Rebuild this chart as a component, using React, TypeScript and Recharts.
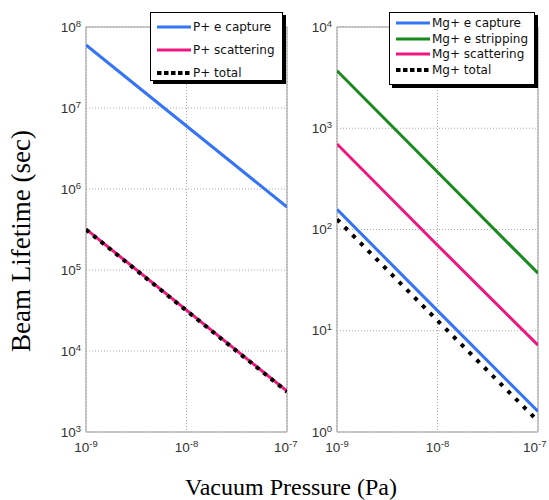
import { LineChart, Line, XAxis, YAxis, CartesianGrid, ReferenceArea, Legend } from 'recharts';

// pressure in Pa, lifetimes in seconds
const pressure = [1e-9, 1e-8, 1e-7];

const pCapture = [6.0e7, 6.0e6, 6.0e5];
const pScatter = [3.2e5, 3.2e4, 3.2e3];
const pTotal = [3.15e5, 3.15e4, 3.15e3];

const mgCapture = [158, 15.8, 1.6];
const mgStrip = [3700, 370, 37];
const mgScatter = [700, 70, 7.2];
const mgTotal = [126, 12.6, 1.28];

const xTicks = [1e-9, 1e-8, 1e-7];
const leftYTicks = [1e3, 1e4, 1e5, 1e6, 1e7, 1e8];
const rightYTicks = [1, 10, 100, 1000, 10000];

const leftData = pressure.map((p, i) => ({
  p,
  'P+ e capture': pCapture[i],
  'P+ scattering': pScatter[i],
  'P+ total': pTotal[i],
}));

const rightData = pressure.map((p, i) => ({
  p,
  'Mg+ e capture': mgCapture[i],
  'Mg+ e stripping': mgStrip[i],
  'Mg+ scattering': mgScatter[i],
  'Mg+ total': mgTotal[i],
}));

const BLUE = '#3574f4';
const PINK = '#f0167f';
const GREEN = '#178a1c';
const tickFont = '"Liberation Sans", Arial, sans-serif';

const exp = (v: number) => Math.round(Math.log10(v));

const YTick = (props: any) => {
  const { x, y, payload } = props;
  return (
    <text x={x} y={y} textAnchor="end" fontSize={13.5} fill="#333" fontFamily={tickFont}>
      <tspan dy="0.35em">10</tspan>
      <tspan dy="-0.55em" fontSize={9.5}>{exp(payload.value)}</tspan>
    </text>
  );
};

const XTick = (props: any) => {
  const { x, y, payload } = props;
  return (
    <text x={x} y={y} textAnchor="middle" fontSize={13.5} fill="#333" fontFamily={tickFont}>
      <tspan dy="0.8em">10</tspan>
      <tspan dy="-0.55em" fontSize={9.5}>{exp(payload.value)}</tspan>
    </text>
  );
};

function BoxLegend({ payload, rowHeight, height }: any) {
  return (
    <div
      style={{
        background: '#fff',
        border: '1px solid #000',
        boxShadow: '3px 3px 0 #000',
        height,
        boxSizing: 'border-box',
        paddingTop: 2,
        fontFamily: '"DejaVu Sans", sans-serif',
        fontSize: 12,
        color: '#111',
      }}
    >
      {(payload || []).map((entry: any) => {
        const dashed = String(entry.value).includes('total');
        return (
          <div key={entry.value} style={{ display: 'flex', alignItems: 'center', height: rowHeight }}>
            <svg width={40} height={6} style={{ marginLeft: 6, marginRight: 2 }}>
              <line
                x1={0}
                x2={34}
                y1={3}
                y2={3}
                stroke={entry.color}
                strokeWidth={dashed ? 4 : 3}
                strokeDasharray={dashed ? '4.5 2.5' : undefined}
              />
            </svg>
            <span style={{ marginLeft: -6 }}>{entry.value}</span>
          </div>
        );
      })}
    </div>
  );
}

export default function App() {
  return (
    <div style={{ position: 'absolute', left: 0, top: 0, width: 549, height: 500, background: '#fff' }}>
      <div style={{ position: 'absolute', left: 0, top: 0 }}>
        <LineChart width={300} height={470} data={leftData} margin={{ top: 27, right: 13, left: 36, bottom: 8 }}>
          <CartesianGrid stroke="#aaa" strokeDasharray="1 2" />
          <XAxis
            dataKey="p"
            type="number"
            scale="log"
            domain={[1e-9, 1e-7]}
            ticks={xTicks}
            allowDataOverflow
            tick={<XTick />}
            tickLine={false}
            axisLine={false}
            tickSize={0}
            tickMargin={9}
            height={30}
          />
          <YAxis
            type="number"
            scale="log"
            domain={[1e3, 1e8]}
            ticks={leftYTicks}
            allowDataOverflow
            tick={<YTick />}
            tickLine={false}
            axisLine={false}
            tickSize={0}
            tickMargin={5}
            width={50}
          />
          <ReferenceArea x1={1e-9} x2={1e-7} y1={1e3} y2={1e8} fill="none" stroke="#999" strokeWidth={1} />
          <Line dataKey="P+ e capture" stroke={BLUE} strokeWidth={3} dot={false} isAnimationActive={false} />
          <Line dataKey="P+ scattering" stroke={PINK} strokeWidth={3} dot={false} isAnimationActive={false} />
          <Line
            dataKey="P+ total"
            stroke="#000"
            strokeWidth={4}
            strokeDasharray="4 5.5"
            dot={false}
            isAnimationActive={false}
          />
          <Legend
            layout="vertical"
            align="center"
            verticalAlign="middle"
            content={<BoxLegend rowHeight={23} height={69} />}
            wrapperStyle={{ left: 150, top: 12, width: 133, height: 69, bottom: 'auto', right: 'auto' }}
          />
        </LineChart>
      </div>

      <div style={{ position: 'absolute', left: 290, top: 0 }}>
        <LineChart width={259} height={470} data={rightData} margin={{ top: 27, right: 11, left: 0, bottom: 8 }}>
          <CartesianGrid stroke="#aaa" strokeDasharray="1 2" />
          <XAxis
            dataKey="p"
            type="number"
            scale="log"
            domain={[1e-9, 1e-7]}
            ticks={xTicks}
            allowDataOverflow
            tick={<XTick />}
            tickLine={false}
            axisLine={false}
            tickSize={0}
            tickMargin={9}
            height={30}
          />
          <YAxis
            type="number"
            scale="log"
            domain={[1, 1e4]}
            ticks={rightYTicks}
            allowDataOverflow
            tick={<YTick />}
            tickLine={false}
            axisLine={false}
            tickSize={0}
            tickMargin={5}
            width={47}
          />
          <ReferenceArea x1={1e-9} x2={1e-7} y1={1} y2={1e4} fill="none" stroke="#999" strokeWidth={1} />
          <Line dataKey="Mg+ e capture" stroke={BLUE} strokeWidth={3} dot={false} isAnimationActive={false} />
          <Line dataKey="Mg+ e stripping" stroke={GREEN} strokeWidth={3} dot={false} isAnimationActive={false} />
          <Line dataKey="Mg+ scattering" stroke={PINK} strokeWidth={3} dot={false} isAnimationActive={false} />
          <Line
            dataKey="Mg+ total"
            stroke="#000"
            strokeWidth={4}
            strokeDasharray="4 7"
            dot={false}
            isAnimationActive={false}
          />
          <Legend
            layout="vertical"
            align="center"
            verticalAlign="middle"
            content={<BoxLegend rowHeight={15.7} height={73} />}
            wrapperStyle={{ left: 99, top: 12, width: 146, height: 73, bottom: 'auto', right: 'auto' }}
          />
        </LineChart>
      </div>

      <div
        style={{
          position: 'absolute',
          left: 21,
          top: 241,
          transform: 'translate(-50%, -50%) rotate(-90deg)',
          whiteSpace: 'nowrap',
          fontFamily: '"Liberation Serif", "Times New Roman", serif',
          fontSize: 27,
          color: '#000',
        }}
      >
        Beam Lifetime (sec)
      </div>
      <div
        style={{
          position: 'absolute',
          left: 291,
          top: 487,
          transform: 'translate(-50%, -50%)',
          whiteSpace: 'nowrap',
          fontFamily: '"Liberation Serif", "Times New Roman", serif',
          fontSize: 24,
          color: '#000',
        }}
      >
        Vacuum Pressure (Pa)
      </div>
    </div>
  );
}
